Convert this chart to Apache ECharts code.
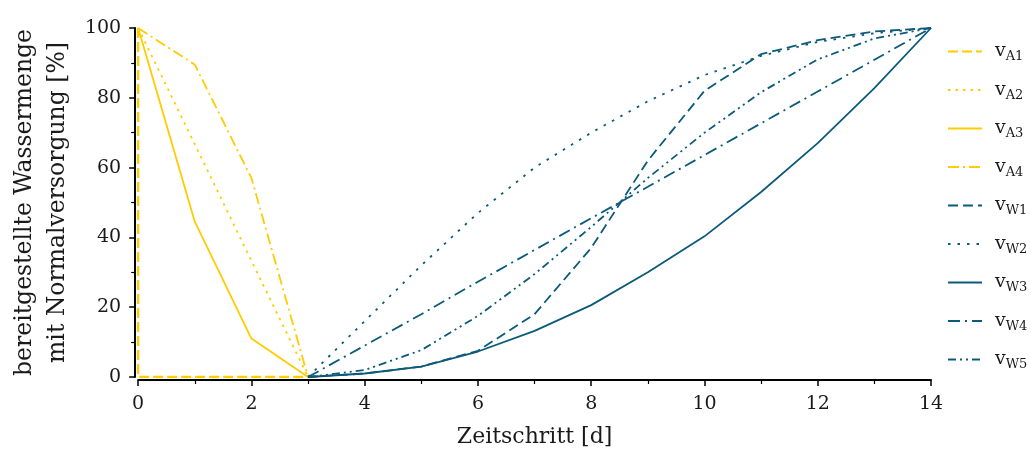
<!DOCTYPE html>
<html lang="de">
<head>
    <meta charset="UTF-8">
    <title>Wassermenge</title>
    <script src="https://cdn.jsdelivr.net/npm/echarts@6/dist/echarts.min.js"></script>
    <style>
        html, body { margin: 0; padding: 0; background: #fff; }
    </style>
</head>
<body>
<div id="main" style="width: 1031px;height:453px;"></div>
<script type="text/javascript">
    // Zeitschritte
    var dayA1 = [0, 0, 1, 2, 3];
    var dayA = [0, 1, 2, 3];
    var dayW = [3, 4, 5, 6, 7, 8, 9, 10, 11, 12, 13, 14];

    // Werte in %
    var vA1 = [100, 0, 0, 0, 0];
    var vA2 = [100, 66.7, 33.3, 0];
    var vA3 = [100, 44.5, 11, 0];
    var vA4 = [100, 89.5, 57, 0];
    var vW1 = [0, 1, 3, 7.5, 18, 37, 62, 82, 92.5, 96.5, 99, 100];
    var vW2 = [0, 16, 32, 47, 60, 70, 79, 86.5, 92, 96, 98.5, 100];
    var vW3 = [0, 1, 3, 7.3, 13.2, 20.6, 30, 40.3, 53, 67, 82.8, 100];
    var vW4 = [0, 9, 18, 27.3, 36.4, 45.5, 54.5, 63.6, 72.7, 81.8, 90.9, 100];
    var vW5 = [0, 2, 7.7, 17.5, 29.5, 43, 57, 70, 81.6, 91, 97, 100];

    var xTicks = [0, 2, 4, 6, 8, 10, 12, 14];
    var yTicks = [0, 20, 40, 60, 80, 100];

    var gelb = '#ffcc00', blau = '#0b5a7a';
    var fontFam = 'DejaVu Serif';
    var txt = '#1a1a1a';

    function pairs(xs, ys) {
        return xs.map(function (x, i) { return [x, ys[i]]; });
    }

    function line(name, xs, ys, color, dash, w) {
        return {
            name: name,
            type: 'line',
            data: pairs(xs, ys),
            symbol: 'none',
            animation: false,
            lineStyle: { color: color, width: w || 1.8, type: dash },
            itemStyle: { color: color }
        };
    }

    var option = {
        animation: false,
        grid: { left: 136, right: 100, top: 28, bottom: 76 },
        legend: {
            orient: 'vertical',
            left: 942,
            top: 37,
            itemWidth: 34,
            itemHeight: 14,
            itemGap: 17,
            itemStyle: { opacity: 0 },
            data: ['A1', 'A2', 'A3', 'A4', 'W1', 'W2', 'W3', 'W4', 'W5'],
            formatter: function (n) { return '{v|v}{s|' + n + '}'; },
            textStyle: {
                fontFamily: fontFam,
                color: txt,
                padding: [0, 0, 0, 8],
                rich: {
                    v: { fontFamily: fontFam, fontSize: 19, color: txt },
                    s: { fontFamily: fontFam, fontSize: 13, color: txt, padding: [11, 0, 0, 0] }
                }
            }
        },
        xAxis: {
            type: 'value',
            min: 0, max: 14, interval: 2,
            offset: 3,
            name: 'Zeitschritt [d]',
            nameLocation: 'middle',
            nameGap: 46,
            nameTextStyle: { fontFamily: fontFam, fontSize: 22, color: txt },
            axisLine: { show: true, onZero: false, lineStyle: { color: '#000', width: 2 } },
            axisTick: { show: true, length: 6, lineStyle: { color: '#000', width: 1.5 } },
            minorTick: { show: true, splitNumber: 2, length: 4, lineStyle: { color: '#000', width: 1.2 } },
            splitLine: { show: false },
            axisLabel: {
                fontFamily: fontFam, fontSize: 19, color: txt, margin: 15,
                formatter: function (v) { return xTicks.indexOf(v) >= 0 ? String(v) : ''; }
            }
        },
        yAxis: {
            type: 'value',
            min: 0, max: 100, interval: 20,
            offset: 3,
            name: 'bereitgestellte Wassermenge\nmit Normalversorgung [%]',
            nameLocation: 'middle',
            nameGap: 54,
            nameTextStyle: { fontFamily: fontFam, fontSize: 23.5, color: txt, lineHeight: 33 },
            axisLine: { show: true, onZero: false, lineStyle: { color: '#000', width: 2 } },
            axisTick: { show: true, length: 6, lineStyle: { color: '#000', width: 1.5 } },
            minorTick: { show: true, splitNumber: 2, length: 4, lineStyle: { color: '#000', width: 1.2 } },
            splitLine: { show: false },
            axisLabel: {
                fontFamily: fontFam, fontSize: 19, color: txt, margin: 14,
                formatter: function (v) { return yTicks.indexOf(v) >= 0 ? String(v) : ''; }
            }
        },
        series: [
            line('A1', dayA1, vA1, gelb, [10, 4], 2.3),
            line('A2', dayA, vA2, gelb, [2.5, 5]),
            line('A3', dayA, vA3, gelb, 'solid'),
            line('A4', dayA, vA4, gelb, [11, 4, 2, 4]),
            line('W1', dayW, vW1, blau, [10, 5]),
            line('W2', dayW, vW2, blau, [2.5, 7]),
            line('W3', dayW, vW3, blau, 'solid'),
            line('W4', dayW, vW4, blau, [12, 5, 2, 5]),
            line('W5', dayW, vW5, blau, [8, 4, 2, 4, 2, 4])
        ]
    };

    var myChart = echarts.init(document.getElementById('main'));
    myChart.setOption(option);
</script>
</body>
</html>
